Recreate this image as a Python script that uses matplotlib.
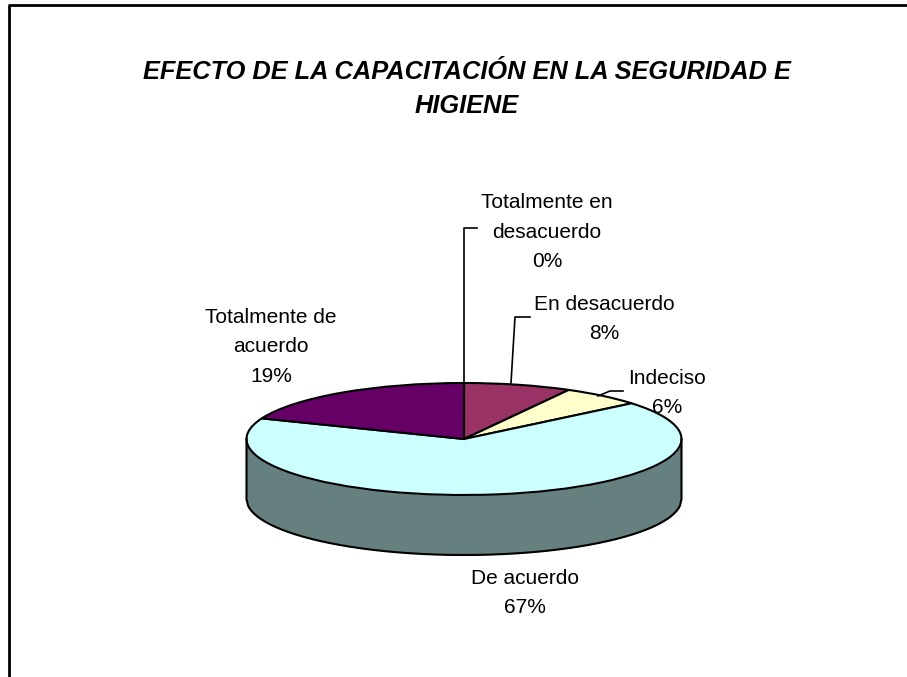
import matplotlib
matplotlib.use("Agg")
import numpy as np
import matplotlib.pyplot as plt

# Survey answers, clockwise from 12 o'clock
categories = ["Totalmente en desacuerdo", "En desacuerdo", "Indeciso", "De acuerdo", "Totalmente de acuerdo"]
percent = [0, 8, 6, 67, 19]
slice_colors = ["#000080", "#993366", "#FFFFCC", "#CCFFFF", "#660066"]
side_color = "#667F7F"

title_lines = ["EFECTO DE LA CAPACITACIÓN EN LA SEGURIDAD E", "HIGIENE"]

W, H = 907, 677
plt.rcParams["font.family"] = ["Liberation Sans", "DejaVu Sans"]

fig = plt.figure(figsize=(W / 100, H / 100), dpi=100, facecolor="white")

# overlay in pixel coords for frame, text and leader lines
overlay = fig.add_axes([0, 0, 1, 1], zorder=3)
overlay.set_xlim(0, W)
overlay.set_ylim(H, 0)
overlay.axis("off")

# pie axes: the unit circle gets squashed into the top ellipse
cx, cy, rx, ry = 464, 439, 217.5, 56
depth = 60 / ry
pie_ax = fig.add_axes([(cx - 2 * rx) / W, 1 - (cy + 3 * ry) / H, 4 * rx / W, 6 * ry / H], zorder=1)

x = np.linspace(-1, 1, 300)
arc = np.sqrt(1 - x**2)
pie_ax.fill_between(x, -arc - depth, -arc, color=side_color, lw=0)
# side wall outline as one line so the corners join up
pie_ax.plot(np.r_[-1, x, 1], np.r_[0, -arc - depth, 0], color="black", lw=1.5)

pie_ax.pie(percent, colors=slice_colors, startangle=90, counterclock=False,
           wedgeprops={"edgecolor": "black", "linewidth": 1.5})
pie_ax.set_aspect("auto")
pie_ax.set_xlim(-2, 2)
pie_ax.set_ylim(-3, 3)

# frame: left and top only reach the picture edge
overlay.plot([9, 9, W], [H, 5, 5], color="black", lw=2, clip_on=False)

title_y = [72, 106]
for line, ty in zip(title_lines, title_y):
    overlay.text(467, ty, line, ha="center", va="center", fontsize=18.3,
                 fontweight="bold", fontstyle="italic")

# label text
label_pos = [(547, 232), (604, 319), (667, 393), (525, 593), (271, 347)]
label_text = ["Totalmente en\ndesacuerdo\n0%", "En desacuerdo\n8%", "Indeciso\n6%",
              "De acuerdo\n67%", "Totalmente de\nacuerdo\n19%"]
for (lx, ly), t in zip(label_pos, label_text):
    overlay.text(lx, ly, t, ha="center", va="center", fontsize=15, linespacing=1.7, color="black")

# leader lines
overlay.plot([464, 464, 477], [439, 228, 228], color="black", lw=1.2)
overlay.plot([511, 515, 530], [383, 317, 317], color="black", lw=1.2)
overlay.plot([598, 610, 623], [396, 391, 391], color="black", lw=1.2)

fig.savefig("out.png", dpi=100)
